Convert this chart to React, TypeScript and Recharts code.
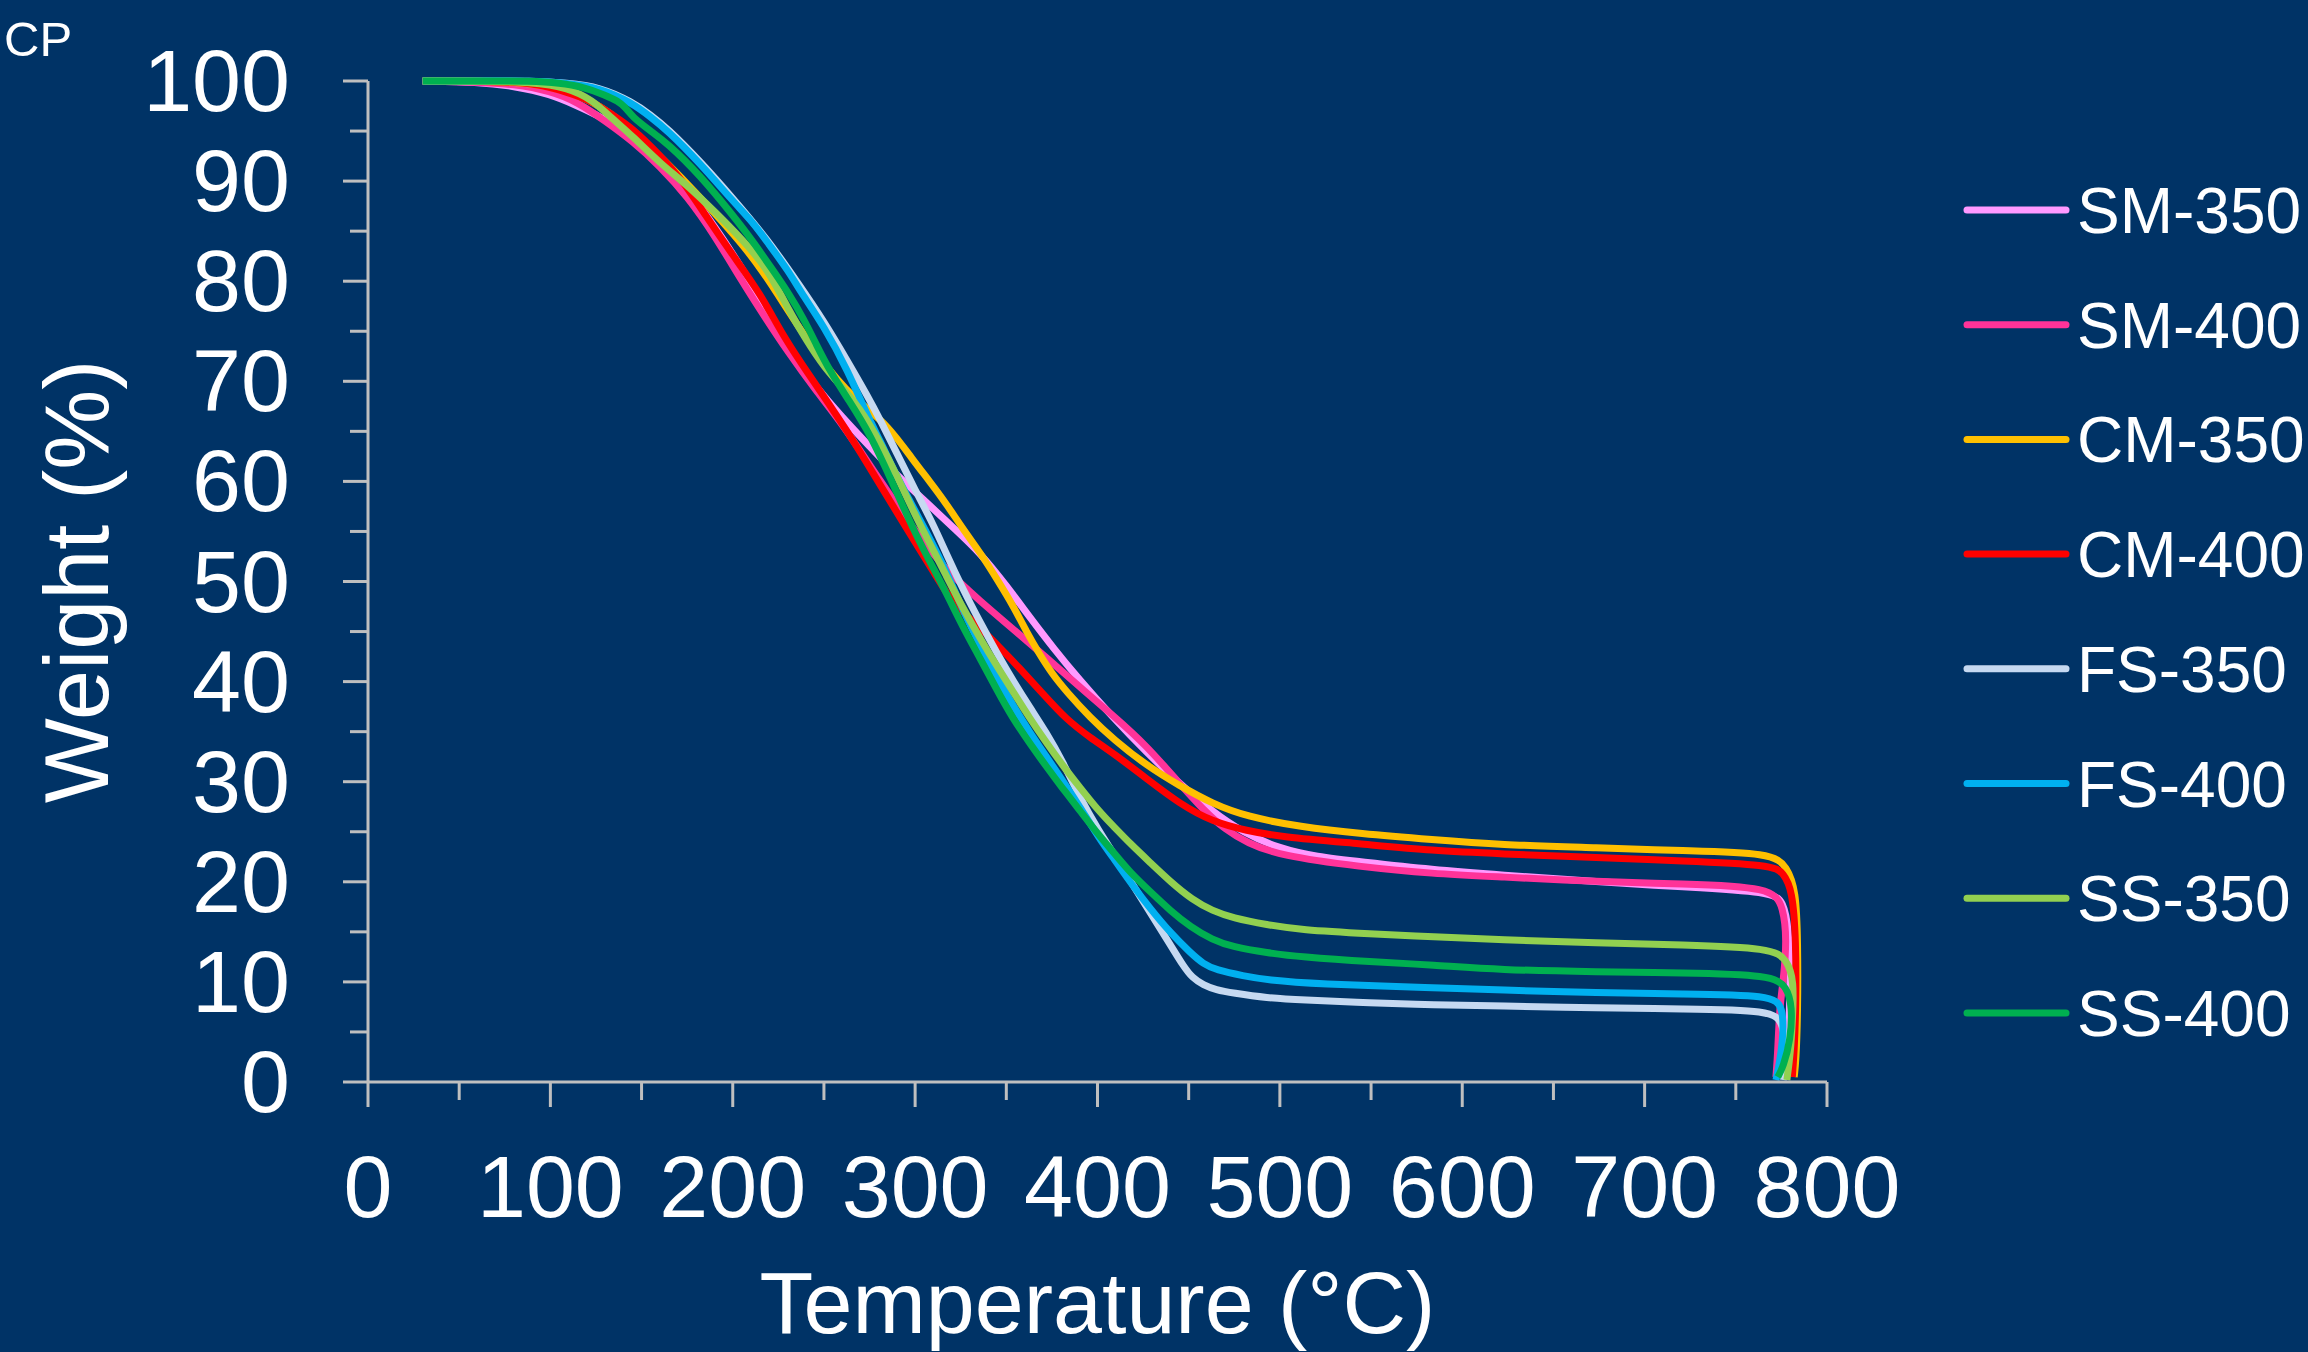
import { Label, Legend, Line, LineChart, XAxis, YAxis } from "recharts";

// TGA weight-loss curves, [temperature °C, weight %]
const sm350: [number, number][] = [
  [30, 100], [60, 99.9], [80, 99.5], [100, 98.7], [115, 97.5], [127, 96.5], [145, 94.5],
  [164, 91.6], [182, 87.6], [200, 82.8], [215, 78.3], [233, 72.6], [245, 69.6], [260, 66.4],
  [275, 63.5], [290, 60.6], [308, 57.6], [322, 55.2], [336, 52.8], [350, 49.6], [363, 46.4],
  [376, 43.3], [390, 40.2], [408, 36.5], [427, 32.9], [445, 29.8], [463, 27.0], [480, 24.9],
  [500, 23.3], [520, 22.5], [544, 22.0], [584, 21.2], [620, 20.7], [675, 20.0], [720, 19.5],
  [770, 19.0], [776, 18.0], [779, 15.5], [780, 10], [779, 5], [778, 0.5],
];
const sm400: [number, number][] = [
  [30, 100], [60, 99.9], [80, 99.7], [100, 99.0], [115, 97.9], [130, 96.0], [145, 94.0],
  [160, 91.5], [175, 88.5], [190, 84.6], [205, 80.0], [218, 76.3], [230, 73.0], [245, 69.2],
  [260, 65.8], [281, 60.0], [300, 55.0], [317, 51.1], [336, 48.0], [354, 45.2], [372, 42.4],
  [390, 39.5], [408, 36.7], [427, 33.6], [445, 29.8], [458, 27.2], [470, 25.2], [482, 23.9],
  [500, 22.6], [544, 21.5], [584, 20.8], [620, 20.5], [675, 20.0], [720, 19.8], [770, 19.5],
  [776, 17.5], [778, 14.2], [776, 10], [774, 7.5], [773, 3], [772, 0.5],
];
const cm350: [number, number][] = [
  [30, 100], [60, 100], [80, 99.9], [100, 99.5], [115, 98.6], [127, 97.5], [137, 96.2],
  [150, 94.2], [164, 91.8], [180, 88.8], [195, 85.8], [206, 83.5], [216, 81.1], [225, 78.6],
  [233, 76.3], [243, 73.6], [252, 71.3], [262, 69.2], [272, 67.5], [285, 65.6], [299, 62.1],
  [308, 60.0], [317, 57.8], [326, 55.3], [336, 52.8], [345, 50.2], [354, 47.5], [361, 45.0],
  [368, 42.8], [375, 40.8], [383, 39.0], [396, 36.4], [409, 34.2], [427, 31.6], [445, 29.6],
  [463, 27.8], [482, 26.5], [511, 25.5], [544, 24.8], [584, 24.2], [620, 23.7], [675, 23.4],
  [720, 23.1], [770, 22.9], [778, 21.5], [783, 19.2], [784, 14], [784, 7], [783, 2], [782, 0.5],
];
const cm400: [number, number][] = [
  [30, 100], [60, 100], [80, 99.9], [95, 99.6], [109, 98.9], [123, 98.0], [135, 96.5],
  [145, 95.3], [160, 92.6], [172, 90.2], [185, 86.6], [200, 82.6], [215, 78.8], [228, 74.4],
  [242, 70.6], [254, 67.4], [266, 64.1], [277, 60.8], [288, 57.5], [300, 53.9], [310, 51.0],
  [319, 48.3], [327, 46.8], [336, 45.3], [347, 43.3], [357, 41.4], [370, 38.8], [383, 36.2],
  [396, 34.4], [409, 32.8], [427, 30.3], [445, 27.8], [463, 26.0], [482, 25.1], [500, 24.5],
  [544, 23.8], [584, 23.1], [620, 22.8], [675, 22.4], [720, 22.1], [770, 21.7], [776, 20.9],
  [781, 19.2], [783, 14.2], [783, 7.5], [782, 3], [781, 0.5],
];
const fs350: [number, number][] = [
  [30, 100], [60, 100], [90, 100], [109, 99.8], [127, 99.4], [145, 97.9], [155, 96.6],
  [164, 95.3], [182, 92.0], [200, 88.3], [219, 84.2], [237, 79.5], [250, 76.0], [263, 72.0],
  [274, 68.5], [281, 66.1], [290, 62.8], [299, 59.5], [310, 55.7], [317, 52.8], [326, 49.3],
  [336, 45.8], [345, 42.8], [354, 40.0], [363, 37.4], [372, 34.9], [381, 32.0], [390, 28.5],
  [401, 25.0], [409, 22.8], [419, 19.8], [429, 16.9], [440, 13.7], [447, 11.6], [452, 10.4],
  [458, 9.7], [465, 9.2], [474, 8.9], [493, 8.4], [511, 8.2], [550, 7.9], [584, 7.7],
  [620, 7.6], [675, 7.4], [720, 7.3], [770, 7.2], [776, 5.9], [778, 2.5], [776, 0.2],
];
const fs400: [number, number][] = [
  [30, 100], [60, 100], [90, 100], [109, 99.8], [127, 99.3], [145, 97.8], [155, 96.4],
  [164, 95.1], [182, 91.8], [200, 88.0], [211, 85.9], [219, 83.9], [231, 80.9], [237, 79.0],
  [250, 75.5], [263, 71.1], [274, 66.5], [281, 64.0], [288, 61.2], [299, 57.4], [306, 55.0],
  [317, 51.1], [326, 47.2], [336, 43.5], [345, 40.4], [354, 37.5], [363, 34.9], [372, 32.5],
  [381, 30.1], [390, 27.6], [401, 24.3], [409, 22.3], [419, 19.7], [429, 17.3], [440, 14.9],
  [451, 12.9], [458, 11.8], [465, 11.2], [480, 10.6], [493, 10.2], [520, 9.8], [584, 9.4],
  [620, 9.2], [675, 8.9], [720, 8.8], [770, 8.7], [776, 7.5], [776, 4.2], [773, 1], [772, 0.2],
];
const ss350: [number, number][] = [
  [30, 100], [60, 100], [90, 99.9], [110, 99.3], [123, 98.1], [133, 96.4], [145, 94.5],
  [160, 91.8], [175, 89.6], [191, 86.8], [205, 84.2], [219, 81.3], [231, 77.0], [240, 74.2],
  [250, 71.4], [262, 69.0], [272, 66.7], [281, 63.8], [290, 60.6], [299, 57.0], [308, 53.8],
  [317, 50.6], [326, 47.4], [336, 44.2], [345, 41.5], [354, 38.9], [363, 36.3], [372, 33.9],
  [381, 31.6], [390, 29.5], [401, 27.0], [409, 25.5], [418, 23.8], [429, 21.9], [440, 20.0],
  [452, 18.2], [463, 17.1], [474, 16.4], [493, 15.7], [511, 15.2], [550, 14.8], [584, 14.5],
  [620, 14.2], [675, 13.9], [720, 13.7], [770, 13.4], [778, 12.2], [782, 10.2], [781, 5.9],
  [780, 3], [778, 0.2],
];
const ss400: [number, number][] = [
  [30, 100], [60, 100], [90, 100], [105, 99.8], [118, 99.4], [130, 98.6], [137, 98.0],
  [141, 97.4], [145, 96.4], [155, 95.0], [164, 93.8], [182, 90.6], [200, 86.6], [211, 84.0],
  [222, 81.1], [231, 78.7], [239, 76.2], [246, 73.6], [253, 71.1], [264, 68.0], [275, 64.8],
  [286, 60.5], [299, 55.2], [308, 52.0], [317, 48.9], [326, 45.5], [336, 42.2], [345, 39.1],
  [354, 36.2], [363, 33.8], [372, 31.5], [381, 29.3], [390, 27.2], [401, 24.6], [409, 22.9],
  [418, 20.9], [429, 19.0], [440, 17.1], [451, 15.5], [463, 14.2], [474, 13.5], [493, 12.9],
  [511, 12.5], [550, 12.0], [584, 11.7], [620, 11.2], [675, 11.0], [720, 10.9], [770, 10.7],
  [778, 9.5], [781, 7.5], [780, 4.2], [776, 1.5], [773, 0.5],
];

const xTicks = [0, 50, 100, 150, 200, 250, 300, 350, 400, 450, 500, 550, 600, 650, 700, 750, 800];
const yTicks = [0, 5, 10, 15, 20, 25, 30, 35, 40, 45, 50, 55, 60, 65, 70, 75, 80, 85, 90, 95, 100];

const series = [
  { name: "SM-350", color: "#FF99FF", points: sm350 },
  { name: "SM-400", color: "#FF3399", points: sm400 },
  { name: "CM-350", color: "#FFC000", points: cm350 },
  { name: "CM-400", color: "#FF0000", points: cm400 },
  { name: "FS-350", color: "#C6D9F1", points: fs350 },
  { name: "FS-400", color: "#00B0F0", points: fs400 },
  { name: "SS-350", color: "#92D050", points: ss350 },
  { name: "SS-400", color: "#00B050", points: ss400 },
];

const FONT = '"Liberation Sans", Arial, sans-serif';
const AXIS = "#BFBFBF";
const BG = "#003366";

function XTick({ x, y, payload }: any) {
  const major = payload.value % 100 === 0;
  return (
    <g>
      <line x1={x} x2={x} y1={y} y2={y + (major ? 25 : 18)} stroke={AXIS} strokeWidth={3} />
      {major && (
        <text x={x} y={y + 135} textAnchor="middle" fill="#fff" fontSize={88} fontFamily={FONT}>
          {payload.value}
        </text>
      )}
    </g>
  );
}

function YTick({ x, y, payload }: any) {
  const major = payload.value % 10 === 0;
  return (
    <g>
      <line x1={x - (major ? 25 : 18)} x2={x} y1={y} y2={y} stroke={AXIS} strokeWidth={3} />
      {major && (
        <text x={x - 78} y={y + 30} textAnchor="end" fill="#fff" fontSize={88} fontFamily={FONT}>
          {payload.value}
        </text>
      )}
    </g>
  );
}

function LegendBox() {
  return (
    <svg width={368} height={920}>
      {series.map((s, i) => {
        const cy = 60 + i * 114.7;
        return (
          <g key={s.name}>
            <line x1={27} x2={126} y1={cy} y2={cy} stroke={s.color} strokeWidth={7} strokeLinecap="round" />
            <text x={137} y={cy + 23} fill="#fff" fontSize={64} fontFamily={FONT}>
              {s.name}
            </text>
          </g>
        );
      })}
    </svg>
  );
}

export default function App() {
  return (
    <div style={{ position: "absolute", left: 0, top: 0, width: 2308, height: 1352, background: BG }}>
      <svg style={{ position: "absolute", left: 0, top: 0 }} width={120} height={80}>
        <text x={4} y={56} fill="#fff" fontSize={49} fontFamily={FONT}>
          CP
        </text>
      </svg>
      <LineChart width={2308} height={1352} margin={{ top: 81, right: 481, bottom: 70, left: 68 }}>
        <XAxis
          dataKey="t"
          type="number"
          domain={[0, 800]}
          ticks={xTicks}
          interval={0}
          height={200}
          tickSize={0}
          tickMargin={0}
          tickLine={false}
          axisLine={{ stroke: AXIS, strokeWidth: 3 }}
          tick={<XTick />}
        >
          <Label
            content={({ viewBox }: any) => (
              <text
                x={viewBox.x + viewBox.width / 2}
                y={viewBox.y + 251}
                textAnchor="middle"
                fill="#fff"
                fontSize={88}
                fontFamily={FONT}
              >
                Temperature (°C)
              </text>
            )}
          />
        </XAxis>
        <YAxis
          type="number"
          domain={[0, 100]}
          ticks={yTicks}
          interval={0}
          width={300}
          tickSize={0}
          tickMargin={0}
          tickLine={false}
          axisLine={{ stroke: AXIS, strokeWidth: 3 }}
          tick={<YTick />}
        >
          <Label
            content={({ viewBox }: any) => {
              const cx = 108;
              const cy = viewBox.y + viewBox.height / 2;
              return (
                <text
                  x={cx}
                  y={cy}
                  transform={`rotate(-90, ${cx}, ${cy})`}
                  textAnchor="middle"
                  fill="#fff"
                  fontSize={90}
                  fontFamily={FONT}
                >
                  Weight (%)
                </text>
              );
            }}
          />
        </YAxis>
        <Legend
          layout="vertical"
          align="center"
          verticalAlign="middle"
          wrapperStyle={{ left: 1940, top: 150, width: 368, height: 920 }}
          content={() => <LegendBox />}
        />
        {series.map((s) => (
          <Line
            key={s.name}
            name={s.name}
            data={s.points.map(([t, w]) => ({ t, w }))}
            dataKey="w"
            type="basis"
            stroke={s.color}
            strokeWidth={7}
            strokeLinejoin="round"
            dot={false}
            activeDot={false}
            isAnimationActive={false}
          />
        ))}
      </LineChart>
    </div>
  );
}
